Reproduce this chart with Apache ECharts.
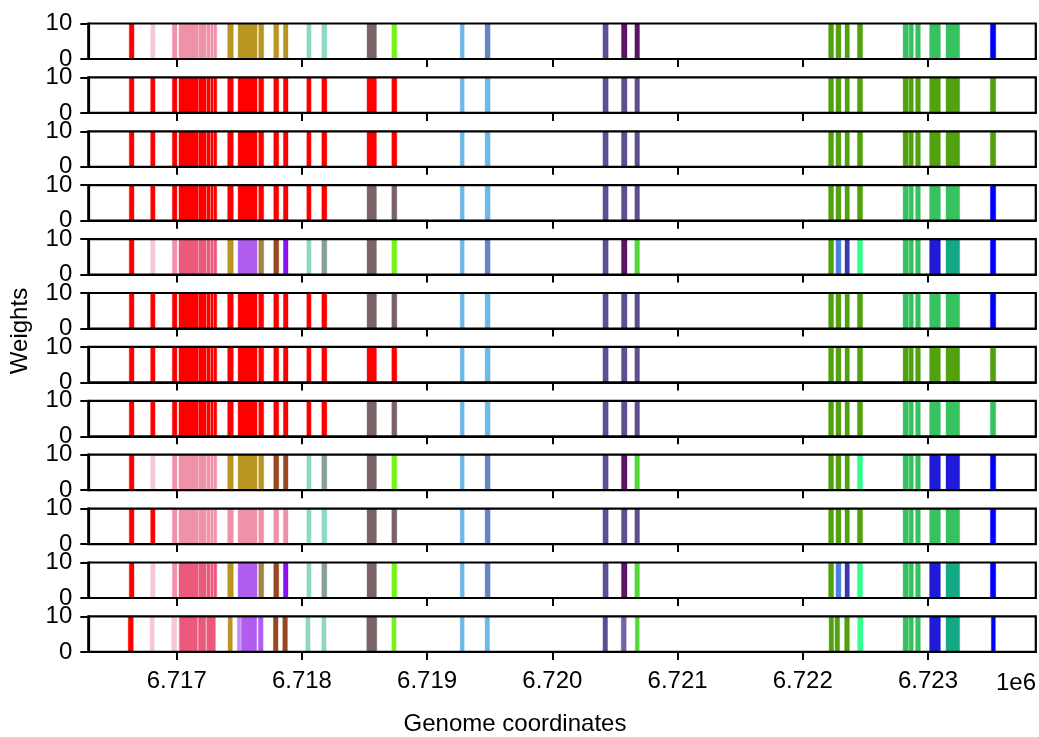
<!DOCTYPE html>
<html>
<head>
<meta charset="utf-8">
<script src="https://cdn.jsdelivr.net/npm/echarts@6/dist/echarts.min.js"></script>
<style>
html,body{margin:0;padding:0;background:#fff;}
#chart{width:1039px;height:737px;}
</style>
</head>
<body>
<div id="chart"></div>
<script>
// ---- data ----
const intervalStart = [6716621,6716792,6716965,6717018,6717178,6717240,6717274,6717298,6717407,6717490,6717655,6717775,6717852,6718039,6718159,6718520,6718718,6719264,6719463,6720404,6720552,6720659,6722206,6722265,6722337,6722436,6722801,6722849,6722901,6723013,6723144,6723498];
const intervalEnd   = [6716659,6716827,6717002,6717173,6717234,6717268,6717292,6717320,6717452,6717642,6717695,6717815,6717889,6718073,6718199,6718595,6718758,6719296,6719503,6720446,6720596,6720696,6722246,6722305,6722372,6722478,6722843,6722883,6722939,6723099,6723253,6723541];
const intervalWeight = [10,10,10,10,10,10,10,10,10,10,10,10,10,10,10,10,10,10,10,10,10,10,10,10,10,10,10,10,10,10,10,10];

const lastStart = [6716613,6716787,6716960,6717021,6717173,6717240,6717410,6717484,6717516,6717652,6717772,6717847,6718031,6718159,6718518,6718718,6719264,6719463,6720404,6720550,6720662,6722210,6722257,6722334,6722438,6722801,6722849,6722901,6723013,6723144,6723506];
const lastEnd   = [6716653,6716821,6717000,6717165,6717232,6717309,6717444,6717511,6717639,6717690,6717809,6717884,6718065,6718193,6718598,6718752,6719296,6719498,6720441,6720590,6720694,6722246,6722294,6722372,6722481,6722843,6722883,6722939,6723099,6723253,6723538];
const lastWeight = [10,10,10,10,10,10,10,10,10,10,10,10,10,10,10,10,10,10,10,10,10,10,10,10,10,10,10,10,10,10,10];

const track1  = ['R','LP','P','P','P','P','P','P','G','G','G','G','G','TL','TL','BG','LI','LB','SB','SP','DP','DP','OG','OG','OG','OG','MG','MG','MG','MG','MG','BL'];
const track2  = ['R','R','R','R','R','R','R','R','R','R','R','R','R','R','R','R','R','LB','LB','SP','SP','SP','OG','OG','OG','OG','OG','OG','OG','OG','OG','OG'];
const track3  = ['R','R','R','R','R','R','R','R','R','R','R','R','R','R','R','R','R','LB','LB','SP','SP','SP','OG','OG','OG','OG','OG','OG','OG','OG','OG','OG'];
const track4  = ['R','R','R','R','R','R','R','R','R','R','R','R','R','R','R','BG','BG','LB','LB','SP','SP','SP','OG','OG','OG','OG','MG','MG','MG','MG','MG','BL'];
const track5  = ['R','LP','P','CP','CP','CP','CP','CP','G','PU','OB','BR','VI','TL','TG','BG','LI','LB','SB','SP','DP','GR','OG','CB','DSB','SG','MG','MG','MG','DB','TE','BL'];
const track6  = ['R','R','R','R','R','R','R','R','R','R','R','R','R','R','R','BG','BG','LB','LB','SP','SP','SP','OG','OG','OG','OG','MG','MG','MG','MG','MG','BL'];
const track7  = ['R','R','R','R','R','R','R','R','R','R','R','R','R','R','R','R','R','LB','LB','SP','SP','SP','OG','OG','OG','OG','OG','OG','OG','OG','OG','OG'];
const track8  = ['R','R','R','R','R','R','R','R','R','R','R','R','R','R','R','BG','BG','LB','LB','SP','SP','SP','OG','OG','OG','OG','MG','MG','MG','MG','MG','MG'];
const track9  = ['R','LP','P','P','P','P','P','P','G','G','G','BR','BR','TL','TG','BG','LI','LB','SB','SP','DP','GR','OG','OG','OG','SG','MG','MG','MG','DB','DB','BL'];
const track10 = ['R','R','P','P','P','P','P','P','P','P','P','P','P','TL','TL','BG','BG','LB','SB','SP','SP','SP','OG','OG','OG','OG','MG','MG','MG','MG','MG','BL'];
const track11 = ['R','LP','P','CP','CP','CP','CP','CP','G','PU','OB','BR','VI','TL','TG','BG','LI','LB','SB','SP','DP','GR','OG','CB','DSB','SG','MG','MG','MG','DB','TE','BL'];
const track12 = ['R','LP','LP','CP','CP','CP','G','PL','PU','PU','BR','BR','TL','TL','BG','LI','LB','LB','SP','SP2','GR','OG','OG','OG','SG','MG','MG','MG','DB','TE','BL'];

const xTickValues = [6717000,6718000,6719000,6720000,6721000,6722000,6723000];
const yTickValues = [0,10];

// ---- styles ----
const palette = {
  R:'#ff0000', LP:'#f8c7d6', P:'#f191a9', CP:'#eb5a7d', G:'#b99621', PU:'#b15ef0', PL:'#c48cf3',
  OB:'#a0844a', BR:'#984820', VI:'#8c10f0', TL:'#8fd8c6', TG:'#88a098', BG:'#7b6467',
  LI:'#76f41a', LB:'#6cb8e6', SB:'#6385c0', SP:'#5f4f92', SP2:'#7363a6', DP:'#5c1466', GR:'#52da36',
  OG:'#52a10e', MG:'#35c25f', BL:'#0000ff', CB:'#4d7fe6', DSB:'#3a37b8', SG:'#35fd92',
  DB:'#1f1bd9', TE:'#13a886'
};

const tracks = [track1,track2,track3,track4,track5,track6,track7,track8,track9,track10,track11,track12];
const FONT = 'Liberation Sans, Arial, sans-serif';
const TOP0 = 23.5, STEP = 53.9, H = 35.5, LEFT = 88.3, WIDTH = 947.5;
const XMIN = 6716294, XMAX = 6723861;

const grids = [], xAxes = [], yAxes = [], series = [];
tracks.forEach((groups, i) => {
  const isLast = i === tracks.length - 1;
  const st = isLast ? lastStart : intervalStart;
  const en = isLast ? lastEnd : intervalEnd;
  const wt = isLast ? lastWeight : intervalWeight;
  grids.push({left: LEFT, top: TOP0 + i*STEP, width: WIDTH, height: H,
    show: true, borderColor: '#000', borderWidth: 2.2, backgroundColor: 'transparent', z: 10});
  xAxes.push({
    type: 'value', gridIndex: i, min: XMIN, max: XMAX, z: 10,
    axisLine: {show: true, onZero: false, lineStyle: {color: '#000', width: 2.2}},
    axisTick: {show: true, length: 8, customValues: xTickValues, lineStyle: {color: '#000', width: 2}},
    axisLabel: {show: isLast, customValues: xTickValues, fontSize: 24, color: '#000', fontFamily: FONT, margin: 17,
      formatter: v => (v/1e6).toFixed(3)},
    splitLine: {show: false}
  });
  yAxes.push({
    type: 'value', gridIndex: i, min: 0, max: 10, z: 10 + i,
    axisLine: {show: true, lineStyle: {color: '#000', width: 2.2}},
    axisTick: {show: true, length: 8, customValues: yTickValues, lineStyle: {color: '#000', width: 2}},
    axisLabel: {show: true, customValues: yTickValues, fontSize: 24, color: '#000', fontFamily: FONT, margin: 16,
      showMinLabel: true, showMaxLabel: true},
    splitLine: {show: false}
  });
  series.push({
    type: 'custom', xAxisIndex: i, yAxisIndex: i, z: 2, silent: true,
    renderItem: function (params, api) {
      const p0 = api.coord([api.value(0), 0]);
      const p1 = api.coord([api.value(1), api.value(2)]);
      const c = api.visual('color');
      return {type: 'rect', shape: {x: p0[0], y: p1[1], width: p1[0]-p0[0], height: p0[1]-p1[1]},
        style: {fill: c, stroke: c, lineWidth: 1, strokeOpacity: 0.35}};
    },
    encode: {x: [0, 1], y: 2},
    data: st.map((s, k) => ({value: [s, en[k], wt[k]], itemStyle: {color: palette[groups[k]]}}))
  });
});

const chart = echarts.init(document.getElementById('chart'), null, {renderer: 'canvas'});
chart.setOption({
  animation: false,
  backgroundColor: '#fff',
  grid: grids, xAxis: xAxes, yAxis: yAxes, series: series,
  graphic: [
    {type: 'text', x: 515, y: 724, style: {text: 'Genome coordinates', font: '24px ' + FONT, fill: '#000', align: 'center', verticalAlign: 'middle'}},
    {type: 'text', x: 20, y: 331, rotation: Math.PI/2, style: {text: 'Weights', font: '24px ' + FONT, fill: '#000', align: 'center', verticalAlign: 'middle'}},
    {type: 'text', x: 1036, y: 683, style: {text: '1e6', font: '24px ' + FONT, fill: '#000', align: 'right', verticalAlign: 'middle'}}
  ]
});
</script>
</body>
</html>
